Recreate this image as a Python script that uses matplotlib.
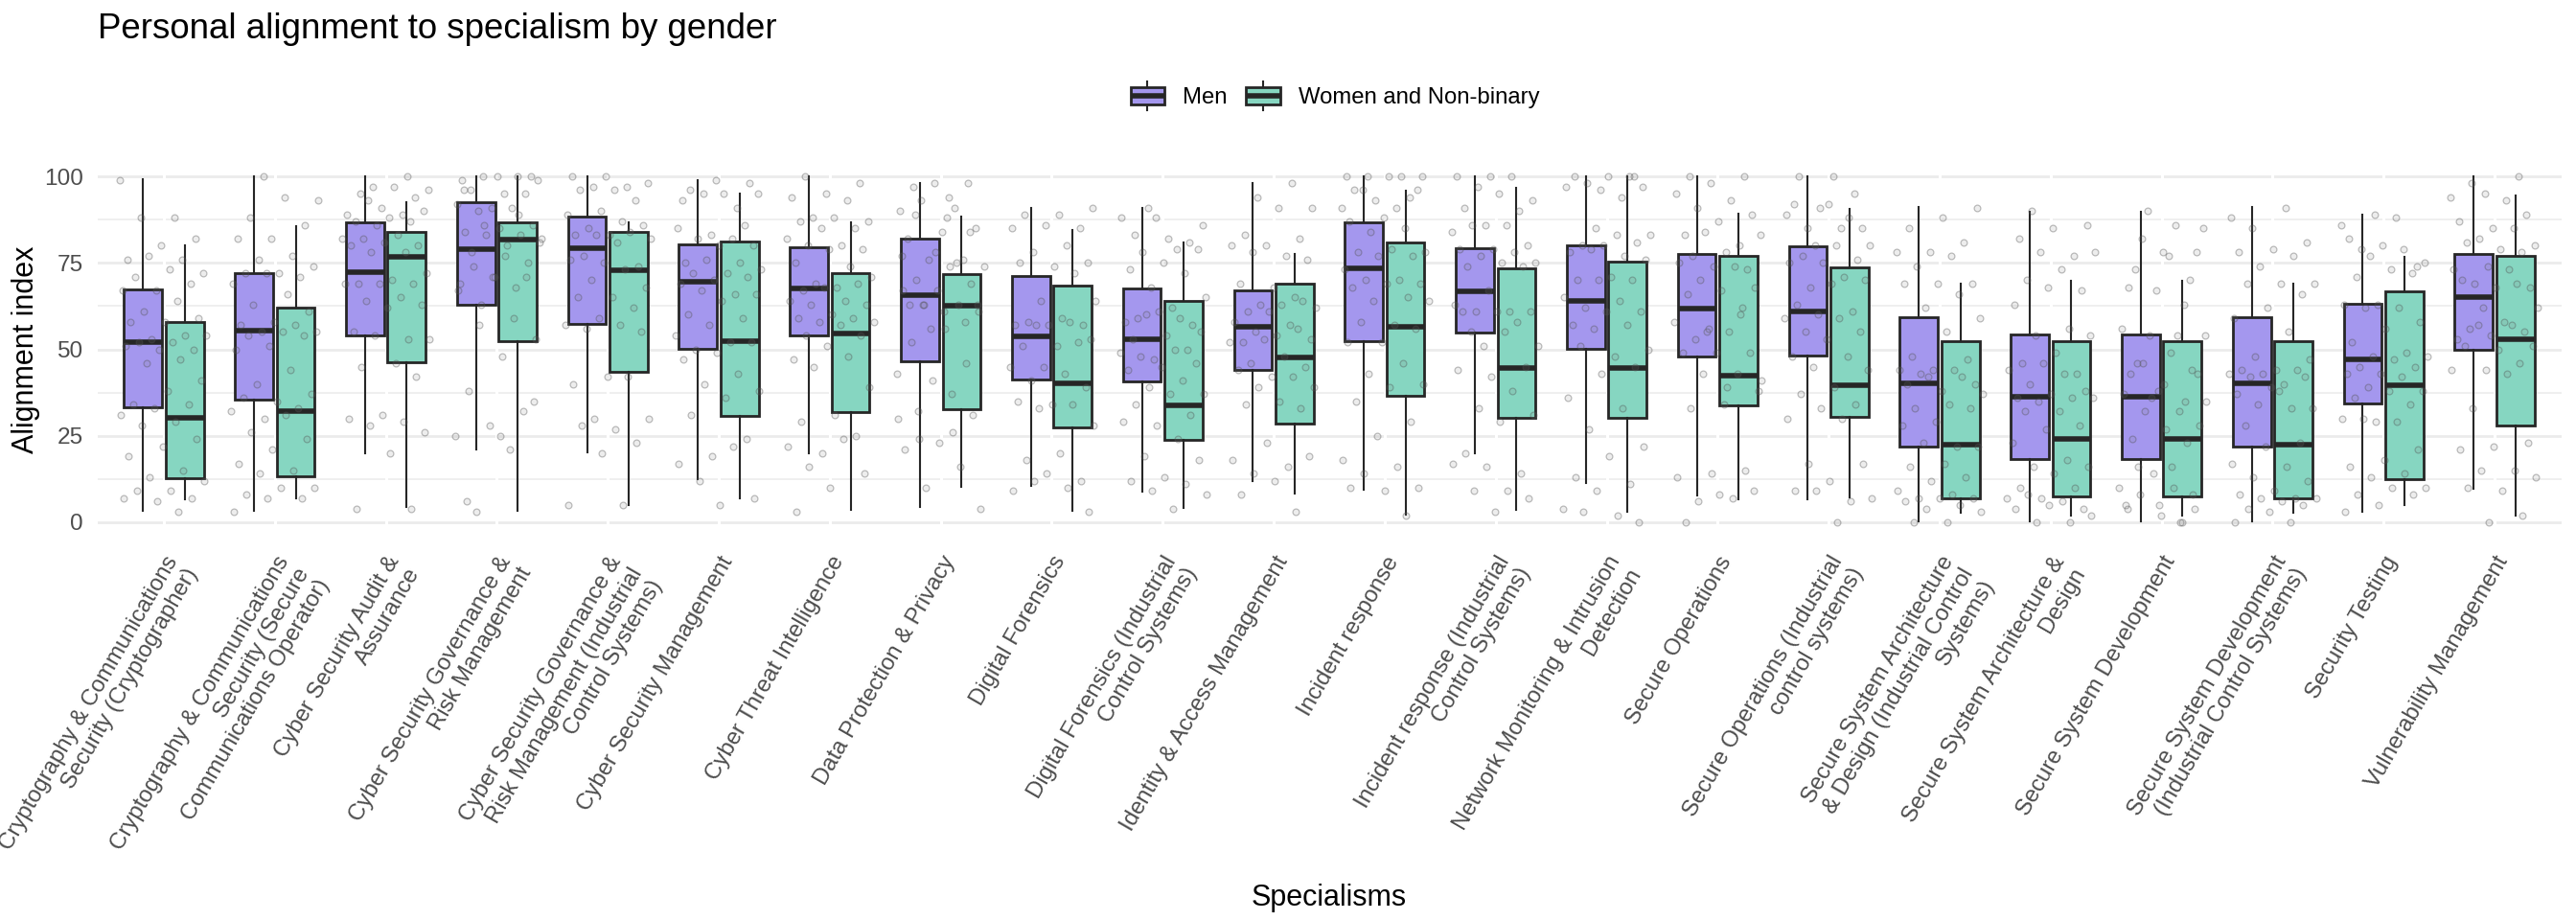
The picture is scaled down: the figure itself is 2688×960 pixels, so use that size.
import numpy as np
import matplotlib
matplotlib.use("Agg")
import matplotlib.pyplot as plt
from matplotlib.patches import Rectangle, Patch
from matplotlib.lines import Line2D
from matplotlib.legend_handler import HandlerBase

plt.rcParams['font.family'] = ['Liberation Sans', 'DejaVu Sans']

categories = [
    "Cryptography & Communications\nSecurity (Cryptographer)",
    "Cryptography & Communications\nSecurity (Secure\nCommunications Operator)",
    "Cyber Security Audit &\nAssurance",
    "Cyber Security Governance &\nRisk Management",
    "Cyber Security Governance &\nRisk Management (Industrial\nControl Systems)",
    "Cyber Security Management",
    "Cyber Threat Intelligence",
    "Data Protection & Privacy",
    "Digital Forensics",
    "Digital Forensics (Industrial\nControl Systems)",
    "Identity & Access Management",
    "Incident response",
    "Incident response (Industrial\nControl Systems)",
    "Network Monitoring & Intrusion\nDetection",
    "Secure Operations",
    "Secure Operations (Industrial\ncontrol systems)",
    "Secure System Architecture\n& Design (Industrial Control\nSystems)",
    "Secure System Architecture &\nDesign",
    "Secure System Development",
    "Secure System Development\n(Industrial Control Systems)",
    "Security Testing",
    "Vulnerability Management",
]

# box statistics
men_low = [3.2, 3.4, 19.8, 21.1, 20.2, 12.5, 19.8, 4.5, 10.6, 8.9, 12.0,
           9.4, 19.8, 11.4, 7.7, 6.5, 0.2, 0.2, 0.4, 0.2, 3.0, 9.6]
men_q1 = [33.1, 35.4, 54.0, 63.0, 57.3, 50.2, 53.9, 46.5, 41.2, 40.8, 44.0,
          52.3, 54.8, 50.1, 47.9, 48.1, 21.9, 18.2, 18.2, 21.9, 34.3, 49.8]
men_med = [52.1, 55.4, 72.3, 78.9, 79.2, 69.6, 67.6, 65.7, 53.7, 53.0, 56.5,
           73.5, 66.8, 64.0, 61.9, 60.9, 40.3, 36.2, 36.2, 40.3, 47.0, 65.1]
men_q3 = [67.3, 72.1, 86.7, 92.4, 88.5, 80.4, 79.5, 82.1, 71.2, 67.7, 67.0,
          86.8, 79.2, 80.0, 77.7, 79.8, 59.2, 54.4, 54.4, 59.2, 63.2, 77.7]
men_high = [99.1, 100, 100, 100, 100, 98.8, 100, 98.2, 90.9, 90.9, 98.2,
            100, 100, 100, 100, 100, 91.1, 89.7, 89.7, 91.1, 89.0, 100]

women_low = [6.5, 6.9, 4.3, 3.4, 5.0, 6.8, 3.6, 10.3, 3.2, 4.1, 8.2,
             2.3, 3.6, 3.0, 6.5, 7.1, 2.8, 2.0, 2.0, 2.8, 5.0, 2.0]
women_q1 = [12.6, 13.3, 46.2, 52.3, 43.5, 30.8, 31.8, 32.8, 27.4, 23.7, 28.5,
            36.6, 30.2, 30.2, 33.7, 30.4, 6.8, 7.4, 7.6, 6.9, 12.5, 28.0]
women_med = [30.2, 32.2, 76.8, 81.7, 72.9, 52.3, 54.5, 62.6, 40.3, 33.9, 47.7,
             56.6, 44.7, 44.6, 42.4, 39.6, 22.5, 24.2, 24.2, 22.5, 39.5, 53.0]
women_q3 = [57.8, 62.1, 84.0, 86.6, 84.0, 81.2, 71.9, 71.8, 68.3, 64.1, 69.1,
            80.9, 73.5, 75.4, 77.0, 73.7, 52.3, 52.3, 52.3, 52.3, 66.9, 76.9]
women_high = [80.0, 85.7, 92.4, 100, 86.6, 94.9, 86.6, 88.5, 84.6, 80.8, 77.6,
              95.8, 96.6, 100, 89.2, 90.6, 68.9, 69.8, 69.8, 68.9, 76.8, 94.5]

# individual responses (all genders), one list per specialism
point_values = [
    [99, 88, 88, 82, 80, 76, 76, 77, 72, 73, 71, 69, 67, 67, 64, 61, 59, 58, 58, 54, 53, 54, 52, 52, 50,
     50, 51, 47, 46, 41, 38, 34, 34, 33, 31, 29, 28, 24, 22, 19, 15, 13, 12, 9, 9, 7, 6, 7, 3],
    [100, 93, 94, 88, 86, 82, 82, 77, 76, 74, 72, 72, 71, 72, 69, 66, 63, 61, 58, 57, 57, 55, 55, 55, 54,
     54, 51, 50, 44, 40, 37, 35, 36, 33, 30, 32, 31, 26, 24, 21, 17, 15, 14, 10, 10, 8, 7, 7, 3],
    [100, 97, 96, 97, 95, 94, 91, 89, 89, 93, 90, 88, 87, 87, 86, 82, 83, 82, 80, 81, 80, 78, 78, 72, 70,
     69, 69, 69, 69, 65, 64, 63, 62, 55, 53, 54, 53, 46, 45, 42, 31, 30, 29, 28, 26, 20, 4, 4],
    [99, 100, 100, 99, 95, 96, 95, 91, 92, 91, 90, 86, 85, 84, 83, 83, 82, 80, 74, 75, 71, 69, 68, 63, 53,
     48, 38, 32, 28, 25, 21, 3, 100, 100, 96, 89, 86, 81, 77, 78, 71, 71, 67, 59, 57, 35, 25, 6],
    [100, 100, 97, 97, 98, 96, 96, 93, 90, 89, 87, 85, 86, 83, 83, 84, 83, 82, 81, 77, 74, 75, 76, 73, 70,
     68, 65, 65, 62, 59, 57, 57, 56, 55, 42, 40, 42, 30, 30, 27, 28, 23, 20, 5, 5],
    [98, 99, 93, 91, 95, 95, 95, 96, 86, 83, 85, 82, 82, 80, 80, 75, 75, 76, 73, 72, 72, 71, 70, 69, 66,
     67, 66, 64, 60, 59, 57, 54, 52, 50, 52, 49, 47, 43, 40, 38, 36, 31, 24, 19, 17, 22, 12, 7, 5],
    [100, 98, 95, 94, 93, 88, 87, 88, 87, 85, 85, 82, 80, 80, 79, 79, 75, 74, 69, 71, 68, 67, 69, 68, 64,
     64, 63, 63, 60, 59, 59, 58, 58, 57, 54, 54, 51, 47, 48, 45, 39, 31, 29, 25, 20, 22, 24, 16, 14, 10, 3],
    [94, 89, 84, 78, 77, 75, 63, 63, 61, 63, 58, 56, 43, 37, 32, 31, 23, 21, 16, 10, 4, 88, 97, 98, 98,
     90, 91, 93, 85, 84, 82, 76, 76, 74, 74, 70, 69, 67, 67, 63, 63, 61, 56, 52, 46, 41, 30, 26, 24],
    [91, 89, 89, 85, 86, 85, 80, 78, 75, 74, 75, 72, 64, 64, 59, 58, 57, 57, 57, 58, 57, 53, 51, 51, 52,
     45, 45, 43, 41, 39, 34, 35, 34, 33, 28, 20, 18, 12, 14, 9, 10, 12, 3],
    [91, 86, 82, 83, 81, 88, 88, 79, 78, 79, 75, 73, 72, 68, 65, 62, 59, 57, 61, 58, 59, 60, 55, 54, 53,
     50, 47, 49, 50, 48, 46, 45, 44, 41, 39, 37, 37, 34, 31, 28, 29, 24, 19, 18, 13, 12, 11, 9, 8, 4],
    [98, 94, 91, 91, 83, 82, 80, 80, 77, 78, 76, 68, 69, 65, 63, 62, 63, 61, 64, 61, 58, 57, 55, 53, 54,
     52, 56, 53, 52, 48, 46, 45, 42, 44, 42, 39, 39, 35, 34, 33, 23, 18, 16, 14, 19, 12, 8, 3],
    [100, 100, 100, 100, 100, 96, 94, 93, 91, 91, 96, 96, 88, 87, 85, 84, 78, 79, 78, 77, 77, 73, 70, 70,
     69, 69, 68, 65, 64, 64, 57, 58, 56, 52, 52, 46, 43, 40, 39, 35, 29, 25, 18, 16, 14, 10, 9, 10, 2],
    [100, 100, 100, 97, 93, 95, 91, 90, 86, 84, 86, 86, 80, 79, 79, 78, 77, 75, 75, 74, 74, 67, 63, 61,
     61, 61, 61, 61, 58, 51, 51, 55, 55, 45, 42, 44, 38, 33, 31, 29, 20, 14, 16, 17, 9, 9, 7, 3],
    [100, 96, 97, 94, 98, 97, 100, 100, 100, 85, 83, 83, 80, 81, 80, 78, 77, 79, 76, 71, 70, 70, 70, 65,
     64, 62, 61, 61, 57, 57, 56, 50, 48, 51, 45, 43, 36, 33, 27, 22, 19, 13, 11, 9, 4, 2, 3, 0],
    [100, 100, 98, 95, 93, 91, 89, 87, 83, 80, 84, 83, 78, 77, 73, 74, 75, 74, 70, 68, 67, 66, 62, 56,
     58, 55, 53, 49, 49, 49, 43, 43, 38, 34, 33, 15, 14, 13, 7, 6, 9, 8, 0, 60, 55, 41, 39],
    [100, 100, 95, 91, 89, 85, 85, 85, 92, 92, 88, 80, 80, 80, 77, 76, 75, 75, 71, 68, 70, 69, 63, 61,
     60, 59, 59, 55, 55, 53, 48, 48, 45, 44, 39, 37, 34, 33, 30, 30, 17, 17, 12, 9, 6, 9, 7, 0],
    [91, 88, 85, 81, 78, 78, 77, 74, 69, 69, 69, 66, 62, 59, 55, 48, 47, 44, 44, 44, 43, 40, 38, 40, 42,
     42, 37, 34, 33, 33, 29, 28, 22, 23, 22, 17, 16, 13, 12, 9, 8, 7, 7, 7, 6, 5, 4, 3, 0, 0],
    [90, 86, 85, 82, 77, 78, 78, 73, 70, 67, 68, 63, 56, 54, 54, 49, 46, 43, 46, 44, 43, 40, 38, 37, 36,
     36, 35, 36, 32, 32, 28, 27, 23, 18, 16, 16, 14, 10, 10, 7, 7, 6, 8, 4, 5, 4, 0, 0, 2],
    [86, 82, 78, 78, 68, 63, 54, 54, 49, 46, 44, 38, 37, 32, 32, 28, 27, 24, 23, 14, 10, 10, 8, 4, 2,
     4, 0, 90, 85, 77, 73, 70, 67, 56, 54, 46, 43, 40, 43, 35, 36, 35, 16, 16, 8, 5, 5, 0],
    [88, 91, 85, 81, 79, 78, 77, 74, 69, 69, 69, 66, 62, 59, 55, 48, 47, 44, 44, 44, 43, 43, 40, 42, 42,
     39, 37, 33, 34, 33, 38, 28, 23, 22, 17, 16, 13, 12, 9, 8, 7, 7, 7, 6, 4, 5, 3, 0, 0],
    [89, 86, 88, 79, 74, 80, 82, 79, 77, 75, 73, 71, 72, 63, 63, 62, 62, 58, 56, 52, 49, 48, 48, 47, 45,
     45, 43, 43, 42, 39, 38, 38, 36, 34, 29, 30, 29, 30, 21, 18, 16, 14, 13, 10, 10, 8, 8, 5, 3],
    [100, 95, 94, 93, 98, 89, 85, 87, 85, 82, 80, 79, 81, 78, 74, 73, 73, 69, 68, 68, 70, 69, 62, 62, 58,
     56, 55, 54, 53, 57, 57, 51, 50, 51, 46, 44, 44, 43, 33, 23, 22, 21, 15, 15, 13, 9, 10, 2, 0],
]

MEN = "#A497EE"
WOMEN = "#86D6C1"
EDGE = "#262626"
GREY30 = "#4D4D4D"

W, H, DPI = 2688, 960, 200
fig = plt.figure(figsize=(W / DPI, H / DPI), dpi=DPI)
ax = fig.add_axes([101.5 / W, 1 - 563 / H, (2672.5 - 101.5) / W, (563 - 166) / H])

x = np.arange(len(categories))


def make_stats(lo, q1, med, q3, hi):
    return [dict(whislo=a, q1=b, med=c, q3=d, whishi=e, fliers=[])
            for a, b, c, d, e in zip(lo, q1, med, q3, hi)]


def draw_boxes(stats, pos, colour):
    ax.bxp(stats, positions=pos, widths=0.343, patch_artist=True, showcaps=False,
           boxprops=dict(facecolor=colour, edgecolor=EDGE, linewidth=1.0),
           medianprops=dict(color=EDGE, linewidth=2.0, solid_capstyle='butt'),
           whiskerprops=dict(color=EDGE, linewidth=0.75),
           manage_ticks=False, zorder=3)


# white breaks in the grid at every category
for c in x:
    ax.axvline(c, color='white', lw=1.1, zorder=1)

draw_boxes(make_stats(men_low, men_q1, men_med, men_q3, men_high), x - 0.1875, MEN)
draw_boxes(make_stats(women_low, women_q1, women_med, women_q3, women_high), x + 0.1875, WOMEN)

# jittered points, spread evenly with a fixed sequence
px, py = [], []
for i, vals in enumerate(point_values):
    k = np.arange(len(vals))
    off = ((k * 0.6180339887 + 0.37 * i) % 1.0 - 0.5) * 0.8
    px.extend(i + off)
    py.extend(vals)
ax.scatter(px, py, s=6.0, facecolor=(0.5, 0.5, 0.5, 0.14), edgecolor=(0.3, 0.3, 0.3, 0.36),
           linewidths=0.45, zorder=4)

ax.set_xlim(-0.6, len(categories) - 0.4)
ax.set_ylim(-5, 105)
ax.set_yticks([0, 25, 50, 75, 100])
ax.set_yticks([12.5, 37.5, 62.5, 87.5], minor=True)
ax.grid(axis='y', which='major', color='#EBEBEB', lw=1.0)
ax.grid(axis='y', which='minor', color='#EBEBEB', lw=0.55)
ax.set_axisbelow(True)
for s in ax.spines.values():
    s.set_visible(False)

ax.set_xticks(x)
ax.set_xticklabels(categories, rotation=60, ha='right', va='top', rotation_mode='anchor',
                   fontsize=8.6, color=GREY30, linespacing=1.15)
ax.tick_params(axis='x', length=0, pad=4.9)
ax.tick_params(axis='y', which='both', length=0, pad=5.4, labelsize=8.8, labelcolor=GREY30)

fig.text(101.5 / W, 1 - 30 / H, "Personal alignment to specialism by gender", fontsize=13.2,
         ha='left', va='center')
fig.text(1387 / W, 1 - 937 / H, "Specialisms", fontsize=11, ha='center', va='center')
fig.text(27 / W, 1 - 364.5 / H, "Alignment index", fontsize=11, rotation=90,
         ha='center', va='center')


class BoxKey(HandlerBase):
    def create_artists(self, legend, orig_handle, xdescent, ydescent, width, height,
                       fontsize, trans):
        x0, y0 = -xdescent, -ydescent
        cx = x0 + width / 2
        lo = Line2D([cx, cx], [y0 + 0.1 * height, y0 + 0.25 * height], color=EDGE, lw=0.75,
                    transform=trans)
        hi = Line2D([cx, cx], [y0 + 0.75 * height, y0 + 0.9 * height], color=EDGE, lw=0.75,
                    transform=trans)
        box = Rectangle((x0 + 0.125 * width, y0 + 0.25 * height), 0.75 * width, 0.5 * height,
                        facecolor=orig_handle.get_facecolor(), edgecolor=EDGE, lw=1.0,
                        transform=trans)
        med = Line2D([x0 + 0.125 * width, x0 + 0.875 * width], [y0 + height / 2] * 2,
                     color=EDGE, lw=2.0, solid_capstyle='butt', transform=trans)
        return [lo, hi, box, med]


fig.legend(handles=[Patch(facecolor=MEN), Patch(facecolor=WOMEN)],
           labels=["Men", "Women and Non-binary"], loc='center',
           bbox_to_anchor=(1390 / W, 1 - 100 / H), ncol=2, frameon=False, fontsize=8.6,
           handlelength=1.96, handleheight=1.96, handletextpad=0.55, columnspacing=0.6,
           handler_map={Patch: BoxKey()})

fig.savefig("out.png", dpi=DPI)
